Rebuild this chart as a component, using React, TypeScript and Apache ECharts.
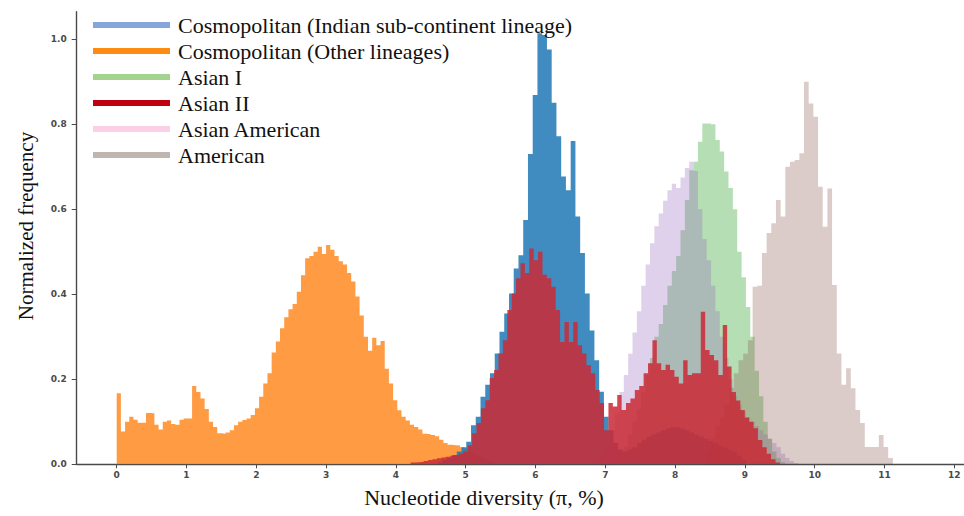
import React, { useEffect, useRef } from 'react';
import * as echarts from 'echarts';

// ---- Data ----
const legendOrder = [
  'Cosmopolitan (Indian sub-continent lineage)',
  'Cosmopolitan (Other lineages)',
  'Asian I',
  'Asian II',
  'Asian American',
  'American',
];
const legendColors = ['#86a6da', '#ff8c12', '#a3d38f', '#c00010', '#fbd0e6', '#bfb5b1'];

const xTicks = [0, 1, 2, 3, 4, 5, 6, 7, 8, 9, 10, 11, 12];
const yTicks = [0, 0.2, 0.4, 0.6, 0.8, 1.0];

// Cosmopolitan (Other lineages) – bins start 0, width 0.06
const otherStart = 0;
const otherWidth = 0.06;
const otherHeights = [
  0.167, 0.077, 0.1, 0.112, 0.105, 0.098, 0.098, 0.121, 0.12, 0.093, 0.082, 0.1, 0.103, 0.095, 0.093,
  0.105, 0.108, 0.108, 0.184, 0.17, 0.155, 0.13, 0.1, 0.088, 0.073, 0.072, 0.075, 0.08, 0.092, 0.1,
  0.104, 0.108, 0.116, 0.132, 0.159, 0.19, 0.214, 0.263, 0.289, 0.32, 0.346, 0.365, 0.377, 0.406,
  0.445, 0.485, 0.49, 0.5, 0.512, 0.495, 0.516, 0.505, 0.49, 0.478, 0.47, 0.45, 0.43, 0.395, 0.35,
  0.3, 0.267, 0.298, 0.28, 0.29, 0.225, 0.19, 0.151, 0.127, 0.112, 0.103, 0.093, 0.088, 0.082, 0.072,
  0.071, 0.069, 0.066, 0.058, 0.05, 0.046, 0.045, 0.044, 0.04, 0.037, 0.03, 0.025, 0.02, 0.015, 0.01,
  0.006, 0.003,
];

// Cosmopolitan (Indian sub-continent lineage) – start 4.6, width 0.068
const indianStart = 4.6;
const indianWidth = 0.068;
const indianHeights = [
  0.005, 0.01, 0.015, 0.022, 0.03, 0.04, 0.053, 0.092, 0.112, 0.159, 0.187, 0.214, 0.261, 0.312,
  0.355, 0.402, 0.461, 0.492, 0.575, 0.73, 0.869, 1.014, 1.01, 0.976, 0.851, 0.772, 0.677, 0.645,
  0.761, 0.583, 0.497, 0.402, 0.315, 0.245, 0.171, 0.112, 0.08, 0.05, 0.035, 0.03, 0.035, 0.04, 0.05,
  0.058, 0.065, 0.07, 0.075, 0.08, 0.085, 0.088, 0.088, 0.085, 0.08, 0.075, 0.07, 0.065, 0.06, 0.055,
  0.05, 0.045, 0.04, 0.035, 0.03, 0.02, 0.01,
];

// Asian I – start 7.14, width 0.0625
const asian1Start = 7.14;
const asian1Width = 0.0625;
const asian1Heights = [
  0.01, 0.02, 0.04, 0.07, 0.1, 0.13, 0.17, 0.21, 0.25, 0.3, 0.33, 0.375, 0.42, 0.455, 0.49, 0.551,
  0.622, 0.692, 0.712, 0.759, 0.802, 0.802, 0.8, 0.763, 0.736, 0.689, 0.65, 0.6, 0.5, 0.44, 0.37,
  0.3, 0.22, 0.16, 0.1, 0.06, 0.03, 0.015, 0.005,
];

// Asian American – start 6.89, width 0.0625
const asianAmStart = 6.89;
const asianAmWidth = 0.0625;
const asianAmHeights = [
  0.01, 0.02, 0.04, 0.08, 0.12, 0.17, 0.21, 0.26, 0.31, 0.36, 0.42, 0.47, 0.52, 0.56, 0.59, 0.62,
  0.645, 0.66, 0.65, 0.675, 0.697, 0.712, 0.69, 0.6, 0.53, 0.48, 0.42, 0.36, 0.3, 0.25, 0.2, 0.16,
  0.14, 0.125, 0.11, 0.1, 0.09, 0.08, 0.07, 0.06, 0.05, 0.04, 0.025, 0.015, 0.008, 0.003,
];

// American – start 8.44, width 0.067
const americanStart = 8.44;
const americanWidth = 0.067;
const americanHeights = [
  0.03, 0.06, 0.09, 0.11, 0.14, 0.18, 0.214, 0.245, 0.26, 0.292, 0.418, 0.42, 0.497, 0.544, 0.567,
  0.622, 0.583, 0.7, 0.712, 0.716, 0.732, 0.9, 0.849, 0.818, 0.653, 0.559, 0.649, 0.422, 0.261,
  0.187, 0.226, 0.179, 0.128, 0.097, 0.041, 0.041, 0.041, 0.069, 0.041, 0.015,
];

// Asian II – start 4.21, width 0.063
const asian2Start = 4.21;
const asian2Width = 0.063;
const asian2Heights = [
  0.004, 0.005, 0.006, 0.008, 0.01, 0.012, 0.014, 0.016, 0.018, 0.02, 0.022, 0.025, 0.03, 0.045,
  0.073, 0.097, 0.132, 0.151, 0.203, 0.222, 0.261, 0.292, 0.363, 0.402, 0.438, 0.473, 0.45, 0.508,
  0.48, 0.5, 0.446, 0.438, 0.418, 0.363, 0.288, 0.335, 0.288, 0.335, 0.28, 0.261, 0.233, 0.214,
  0.175, 0.144, 0.08, 0.144, 0.136, 0.163, 0.128, 0.144, 0.155, 0.175, 0.184, 0.214, 0.238, 0.292,
  0.238, 0.222, 0.234, 0.222, 0.206, 0.19, 0.245, 0.21, 0.214, 0.214, 0.359, 0.269, 0.257, 0.245,
  0.21, 0.328, 0.23, 0.17, 0.15, 0.128, 0.11, 0.1, 0.085, 0.057, 0.04, 0.025, 0.012, 0.004,
];

function toSteps(start: number, width: number, heights: number[]): number[][] {
  const pts: number[][] = [[start, 0]];
  heights.forEach((h, i) => pts.push([+(start + i * width).toFixed(4), h]));
  pts.push([+(start + heights.length * width).toFixed(4), 0]);
  return pts;
}

const SERIF = 'Liberation Serif';

export default function App() {
  const ref = useRef<HTMLDivElement>(null);

  useEffect(() => {
    if (!ref.current) return;
    const chart = echarts.init(ref.current, undefined, { renderer: 'svg' });

    const mk = (name: string, data: number[][], fill: string, opacity: number, z: number) => ({
      type: 'line',
      name,
      data,
      step: 'end',
      symbol: 'none',
      showSymbol: false,
      silent: true,
      z,
      lineStyle: { width: 0, opacity: 0 },
      itemStyle: { color: legendColors[legendOrder.indexOf(name)] },
      areaStyle: { color: fill, opacity },
      emphasis: { disabled: true },
    });

    const option: any = {
      animation: false,
      grid: { left: 76.7, top: 11.7, right: 0, bottom: 51.7, containLabel: false },
      xAxis: {
        type: 'value',
        min: -0.573,
        max: 12.139,
        splitLine: { show: false },
        axisLine: { show: true, onZero: false, lineStyle: { color: '#4a4a4a', width: 1.4 } },
        axisTick: { show: true, length: 4, customValues: xTicks, lineStyle: { color: '#4a4a4a', width: 1 } },
        axisLabel: {
          customValues: xTicks,
          margin: 6,
          fontSize: 9,
          fontWeight: 'bold',
          color: '#4a4a4a',
          fontFamily: 'DejaVu Sans',
        },
      },
      yAxis: {
        type: 'value',
        min: 0,
        max: 1.065,
        splitLine: { show: false },
        axisLine: { show: true, onZero: false, lineStyle: { color: '#4a4a4a', width: 1.4 } },
        axisTick: { show: true, length: 5, customValues: yTicks, lineStyle: { color: '#4a4a4a', width: 1 } },
        axisLabel: {
          customValues: yTicks,
          margin: 10,
          fontSize: 9,
          fontWeight: 'bold',
          color: '#4a4a4a',
          fontFamily: 'DejaVu Sans',
          formatter: (v: number) => v.toFixed(1),
        },
      },
      legend: {
        orient: 'vertical',
        left: 93,
        top: 12,
        padding: 0,
        itemWidth: 77,
        itemHeight: 6,
        itemGap: 0,
        icon: 'rect',
        selectedMode: false,
        textStyle: { fontFamily: SERIF, fontSize: 22, color: '#111', lineHeight: 26, padding: [0, 0, 0, 3] },
        data: legendOrder.map((n, i) => ({
          name: n,
          itemStyle: { color: legendColors[i], borderWidth: 0 },
        })),
      },
      series: [
        mk(legendOrder[1], toSteps(otherStart, otherWidth, otherHeights), '#ff7f0e', 0.78, 1),
        mk(legendOrder[0], toSteps(indianStart, indianWidth, indianHeights), '#1f77b4', 0.85, 2),
        mk(legendOrder[2], toSteps(asian1Start, asian1Width, asian1Heights), '#2ca02c', 0.35, 3),
        mk(legendOrder[4], toSteps(asianAmStart, asianAmWidth, asianAmHeights), '#9467bd', 0.3, 4),
        mk(legendOrder[5], toSteps(americanStart, americanWidth, americanHeights), '#8c564b', 0.3, 5),
        mk(legendOrder[3], toSteps(asian2Start, asian2Width, asian2Heights), '#c92a35', 0.86, 6),
      ],
      graphic: [
        {
          type: 'text',
          x: 26,
          y: 226,
          rotation: Math.PI / 2,
          silent: true,
          style: {
            text: 'Normalized frequency',
            fontFamily: SERIF,
            fontSize: 21,
            fill: '#111',
            textAlign: 'center',
            textVerticalAlign: 'middle',
            align: 'center',
            verticalAlign: 'middle',
          },
        },
        {
          type: 'text',
          x: 484,
          y: 497,
          silent: true,
          style: {
            text: 'Nucleotide diversity (π, %)',
            fontFamily: SERIF,
            fontSize: 22,
            fill: '#111',
            textAlign: 'center',
            textVerticalAlign: 'middle',
            align: 'center',
            verticalAlign: 'middle',
          },
        },
      ],
    };

    chart.setOption(option);
    return () => chart.dispose();
  }, []);

  return (
    <div
      ref={ref}
      style={{ position: 'fixed', left: 0, top: 0, width: 964, height: 516, background: '#fff' }}
    />
  );
}
